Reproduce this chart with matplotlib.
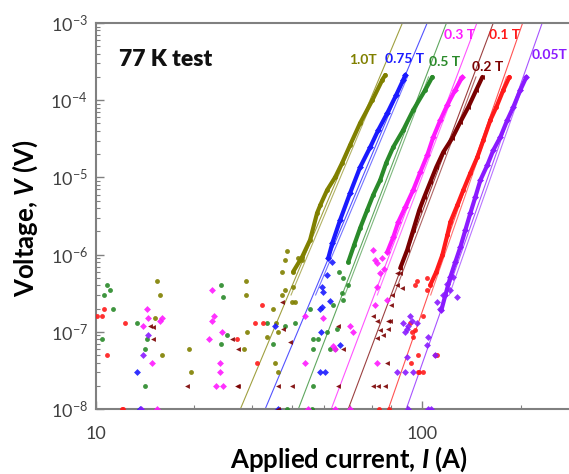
import matplotlib.pyplot as plt
from matplotlib.ticker import LogLocator, FuncFormatter, NullFormatter

plt.rcParams['font.family'] = ['Lato', 'DejaVu Sans']
plt.rcParams['mathtext.fontset'] = 'custom'
plt.rcParams['mathtext.rm'] = 'Lato'
plt.rcParams['mathtext.it'] = 'Lato:italic:bold'
plt.rcParams['mathtext.bf'] = 'Lato:bold'
plt.rcParams['mathtext.default'] = 'regular'

# ---- data (current in A, voltage in V) ----
# 1.0 T
i_10_curve = [40.2, 42.8, 45.3, 47.6, 48.7, 51.1, 54.1, 56.8, 60.1, 64.5, 70.3, 75.4, 77.0]
v_10_curve = [6.0e-7, 9.3e-7, 1.55e-6, 3.46e-6, 4.39e-6, 6.87e-6, 1.01e-5, 1.54e-5, 2.63e-5, 5.07e-5, 1.0e-4, 1.83e-4, 2.12e-4]
i_10_noise = [15.4, 15.7, 15.2, 15.9, 19.3, 19.5, 28.9, 28.9, 29.1, 28.5, 38.5, 38.0, 37.2, 41.7,
              42.9, 40.2, 40.8, 39.9, 38.0, 34.9, 33.5, 35.4, 36.1, 37.2, 36.1, 35.7]
v_10_noise = [4.5e-7, 3e-7, 1.5e-7, 5e-8, 6e-8, 3e-8, 4.5e-7, 3e-7, 1e-7, 6e-8, 1.1e-6, 8.5e-7, 6e-7, 9e-7,
              8.5e-7, 3.8e-7, 2.4e-7, 2.4e-7, 3.5e-7, 2e-7, 8.5e-8, 4e-8, 3e-8, 3e-7, 1e-7, 1.3e-7]
# 0.75 T
i_075_curve = [51.5, 53.0, 56.0, 60.1, 64.5, 69.3, 73.3, 78.1, 83.2, 87.4, 88.7]
v_075_curve = [9.0e-7, 1.41e-6, 2.81e-6, 6.3e-6, 1.36e-5, 2.48e-5, 4.11e-5, 6.8e-5, 1.17e-4, 1.83e-4, 2.12e-4]
i_075_noise = [13.4, 13.6, 35.4, 36.0, 49.4, 49.7, 49.4, 52.3, 48.7, 56.0, 48.7, 50.4, 49.0, 51.1, 53.0]
v_075_noise = [3e-8, 1e-8, 1.2e-7, 1e-8, 3.8e-7, 3.3e-7, 2.1e-7, 2.5e-7, 2e-7, 6.8e-8, 3e-8, 3e-8, 1e-7, 5.5e-7, 8e-7]
# 0.5 T
i_05_curve = [59.3, 61.8, 64.5, 67.8, 70.7, 74.3, 77.5, 81.5, 87.4, 93.8, 102.1, 107.3]
v_05_curve = [8.0e-7, 1.33e-6, 2.21e-6, 3.78e-6, 5.9e-6, 9.25e-6, 1.54e-5, 2.48e-5, 4.11e-5, 7.46e-5, 1.36e-4, 2.0e-4]
i_05_noise = [10.8, 10.6, 11.0, 11.3, 10.4, 13.4, 14.1, 14.3, 14.1, 24.2, 24.5, 24.2, 25.2, 33.5, 38.0,
              40.8, 34.9, 45.3, 46.3, 48.0, 51.1, 56.8, 59.3, 57.2, 53.4, 54.9, 46.3, 52.3, 54.1, 46.3,
              38.5, 45.8, 55.5, 57.0]
v_05_noise = [4e-7, 3e-7, 3.5e-7, 2e-7, 8e-8, 1.3e-7, 6e-8, 8e-8, 2e-8, 4e-7, 2.8e-7, 7e-8, 9e-8, 1.3e-7, 1.2e-7,
              1.3e-7, 7e-8, 2e-7, 8e-8, 8e-8, 1e-7, 3.2e-7, 4e-7, 2.6e-7, 2.2e-7, 1.1e-7, 6e-8, 6e-8, 6e-8, 2e-8,
              1e-8, 1e-8, 6e-7, 5e-7]
# 0.3 T
i_03_curve = [78.1, 81.5, 84.4, 88.7, 93.8, 98.6, 103.6, 108.1, 113.6, 119.3, 126.2, 132.6]
v_03_curve = [1.08e-6, 1.69e-6, 2.64e-6, 4.14e-6, 6.87e-6, 1.17e-5, 1.95e-5, 3.34e-5, 5.54e-5, 8.67e-5, 1.36e-4, 2.0e-4]
i_03_noise = [14.3, 14.4, 13.9, 14.8, 15.4, 15.9, 15.7, 22.7, 22.7, 23.0, 22.2, 24.3, 24.0, 24.0, 23.3, 24.5,
              43.8, 49.7, 54.1, 60.1, 61.4, 53.4, 70.7, 71.7, 72.8, 74.3, 72.8, 71.7, 78.1, 43.8, 72.8,
              44.7, 54.0, 60.0, 75.0, 76.5]
v_03_noise = [2e-7, 1.5e-7, 1.2e-7, 4e-8, 1e-8, 1.5e-7, 1.4e-7, 3.5e-7, 1.4e-7, 1.6e-7, 8e-8, 1e-7, 4e-8, 3e-8, 2e-8, 2e-8,
              1.6e-7, 1.5e-7, 6e-8, 1.2e-7, 1e-7, 6.5e-8, 1.15e-6, 8.5e-7, 7.7e-7, 5.8e-7, 3.8e-7, 2.2e-7, 2.6e-7, 4e-8, 4e-8,
              1e-8, 1e-8, 1e-8, 9e-7, 6.5e-7]
# 0.2 T
i_02_curve = [85.6, 89.9, 93.8, 97.9, 101.4, 105.8, 110.4, 116.0, 123.6, 130.8, 138.4, 146.4, 152.8]
v_02_curve = [6.7e-7, 1.15e-6, 2.08e-6, 3.78e-6, 5.57e-6, 8.7e-6, 1.36e-5, 2.13e-5, 3.24e-5, 5.22e-5, 8.17e-5, 1.36e-4, 2.0e-4]
i_02_noise = [14.6, 15.0, 14.9, 19.0, 26.1, 27.3, 27.1, 27.3, 37.2, 37.5, 39.4, 39.9, 36.1, 70.7, 72.8,
              74.3, 75.9, 78.7, 78.1, 77.0, 73.3, 79.8, 78.7, 72.8, 83.8, 86.9, 85.6, 83.8, 70.7, 36.0,
              55.0, 57.0, 55.0, 81.0, 80.0]
v_02_noise = [1.2e-7, 1.15e-7, 8e-8, 2e-8, 8e-8, 6e-8, 2e-8, 2e-8, 2.4e-7, 1.1e-7, 7.3e-8, 2e-8, 2e-8, 1.6e-7, 1.4e-7,
              1.05e-7, 9e-8, 1.4e-7, 4e-8, 2e-8, 2e-8, 1.4e-7, 1.1e-7, 8.2e-8, 4e-7, 3.7e-7, 5.8e-7, 5.8e-7, 2e-8, 1e-8,
              1.2e-7, 6e-8, 2e-8, 3e-7, 2.2e-7]
# 0.1 T
i_01_curve = [105.8, 110.4, 115.2, 119.3, 121.9, 128.1, 133.6, 140.4, 147.5, 153.9, 161.7, 168.7, 177.2, 184.9]
v_01_curve = [4.04e-7, 6.0e-7, 9.9e-7, 1.79e-6, 2.64e-6, 4.39e-6, 6.87e-6, 1.14e-5, 1.84e-5, 3.05e-5, 5.54e-5, 8.17e-5, 1.36e-4, 2.0e-4]
i_01_noise = [10.1, 10.4, 10.6, 10.8, 12.3, 12.1, 30.7, 32.5, 32.3, 31.2, 27.1, 96.6, 103.6, 100.7, 95.2,
              97.2, 100.7, 97.2, 109.6, 111.2, 93.1, 103.6, 95.2, 92.0, 93.8, 92.5, 98.0, 73.9, 79.0, 12.0]
v_01_noise = [1.6e-7, 1.6e-7, 2e-7, 5e-8, 1.3e-7, 1e-8, 1.3e-7, 1.3e-7, 2.2e-7, 4e-8, 8e-8, 4.5e-7, 3.5e-7, 1.6e-7, 1.05e-7,
              5e-8, 3e-8, 3e-8, 5e-8, 5e-8, 1e-7, 5e-7, 4e-7, 1.3e-7, 8.5e-8, 4e-8, 3e-8, 1e-8, 1e-8, 1e-8]
# 0.05 T
i_005_curve = [114.4, 117.7, 121.9, 126.2, 130.8, 135.5, 140.4, 145.4, 150.7, 158.3, 165.1, 173.5, 182.2, 190.1, 199.8, 208.4]
v_005_curve = [1.91e-7, 3.0e-7, 5.13e-7, 8.0e-7, 1.25e-6, 2.08e-6, 3.46e-6, 5.57e-6, 9.25e-6, 1.45e-5, 2.26e-5, 3.34e-5, 5.54e-5, 8.17e-5, 1.36e-4, 2.0e-4]
i_005_noise = [14.4, 13.9, 13.7, 93.1, 90.6, 88.7, 89.9, 88.7, 93.8, 104.3, 103.6, 113.6, 111.2, 116.0,
               121.9, 119.3, 124.5, 128.1, 109.6, 90.6, 104.3, 106.0, 87.4, 89.9, 92.0, 96.6, 83.8]
v_005_noise = [9e-8, 5e-8, 1e-8, 1.4e-7, 1.2e-7, 1e-7, 4.7e-8, 3e-8, 3e-8, 8.5e-8, 6.8e-8, 2e-7, 2.4e-7, 3e-7,
               3.5e-7, 4.1e-7, 5.1e-7, 2.8e-7, 5e-8, 1e-8, 1e-8, 1e-8, 1.3e-7, 1.1e-7, 1.6e-7, 1.3e-7, 3e-8]

# power-law fit lines: current at V = 1e-8 and at V = 1e-3, plus a shorter second fit
fit_v = [1e-8, 1e-3]
fit2_v = [3e-7, 2e-4]
fit_10 = [27.7, 86.9];   fit2_10 = [39.6, 75.5]
fit_075 = [33.0, 103.5]; fit2_075 = [47.1, 90.0]
fit_05 = [41.7, 118.6];  fit2_05 = [57.9, 104.5]
fit_03 = [52.6, 147.0];  fit2_03 = [72.8, 130.3]
fit_02 = [59.3, 165.0];  fit2_02 = [81.9, 146.0]
fit_01 = [78.7, 203.0];  fit2_01 = [106.1, 181.0]
fit_005 = [89.3, 233.0]; fit2_005 = [121.0, 208.0]

labels = ['1.0T', '0.75 T', '0.5 T', '0.3 T', '0.2 T', '0.1 T', '0.05T']
colors = ['#808000', '#1a1aff', '#2a8a2a', '#ff1aff', '#7a0000', '#ff1a1a', '#8a1aff']
markers = ['o', 'D', 'o', 'D', '<', 'o', 'D']
label_pos = [(363, 60), (405, 59), (445, 62), (460, 35), (488, 67), (505, 35), (550, 55)]

series = [
    (i_10_curve, v_10_curve, i_10_noise, v_10_noise, fit_10, fit2_10),
    (i_075_curve, v_075_curve, i_075_noise, v_075_noise, fit_075, fit2_075),
    (i_05_curve, v_05_curve, i_05_noise, v_05_noise, fit_05, fit2_05),
    (i_03_curve, v_03_curve, i_03_noise, v_03_noise, fit_03, fit2_03),
    (i_02_curve, v_02_curve, i_02_noise, v_02_noise, fit_02, fit2_02),
    (i_01_curve, v_01_curve, i_01_noise, v_01_noise, fit_01, fit2_01),
    (i_005_curve, v_005_curve, i_005_noise, v_005_noise, fit_005, fit2_005),
]

W, H = 569, 474
fig = plt.figure(figsize=(W / 100, H / 100), dpi=100)
# right end of the x axis (300 A) falls just outside the picture
ax = fig.add_axes([96 / W, 1 - 409 / H, (578 - 96) / W, 386 / H])
ax.set_xscale('log')
ax.set_yscale('log')

for k in range(len(series)):
    ci, cv, ni, nv, f1, f2 = series[k]
    c = colors[k]
    ax.plot(f1, fit_v, '-', color=c, lw=0.8, alpha=0.75, zorder=2)
    ax.plot(f2, fit2_v, '-', color=c, lw=0.8, alpha=0.6, zorder=2)
    ax.plot(ci, cv, '-', color=c, lw=3, solid_capstyle='round', zorder=3)
    ax.plot(ci, cv, markers[k], color=c, ms=3.5, mec='none', zorder=3)
    ax.plot(ni, nv, markers[k], color=c, ms=3.5, mec='none', alpha=0.9, zorder=3)

ax.set_xlim(10, 300)
ax.set_ylim(1e-8, 1e-3)

ax.xaxis.set_major_locator(LogLocator(base=10))
ax.xaxis.set_minor_locator(LogLocator(base=10, subs=range(2, 10)))
ax.xaxis.set_major_formatter(FuncFormatter(lambda x, p: '%g' % x))
ax.xaxis.set_minor_formatter(NullFormatter())
ax.yaxis.set_minor_locator(LogLocator(base=10, subs=range(2, 10)))
ax.yaxis.set_minor_formatter(NullFormatter())

ax.tick_params(which='both', direction='in', colors='#808080', labelcolor='#404040',
               labelsize=13, top=False, right=False)
ax.tick_params(which='major', length=6, width=1)
ax.tick_params(which='minor', length=3, width=0.8)
ax.tick_params(axis='x', pad=12)
ax.tick_params(axis='y', pad=6)

for s in ['left', 'bottom', 'top']:
    ax.spines[s].set_color('#808080')
    ax.spines[s].set_linewidth(1.5)
ax.spines['right'].set_visible(False)

ax.set_xlabel(r'Applied current, $\mathit{I}$ (A)', fontsize=18.5, fontweight='bold')
ax.set_ylabel(r'Voltage, $\mathit{V}$ (V)', fontsize=18.5, fontweight='bold')
ax.xaxis.set_label_coords((349 - 96) / (578 - 96), -(459 - 409) / 386)
ax.yaxis.set_label_coords(-(96 - 25) / (578 - 96), (409 - 218) / 386)
ax.xaxis.label.set_va('center')
ax.yaxis.label.set_va('center')

def ax_xy(px, py):
    return (px - 96) / (578 - 96), (409 - py) / 386

ax.text(*ax_xy(119, 59), '77 K test', transform=ax.transAxes, fontsize=16.5,
        fontweight='heavy', va='center', ha='left', color='#111111')
for k in range(len(labels)):
    ax.text(*ax_xy(*label_pos[k]), labels[k], transform=ax.transAxes, fontsize=10,
            fontweight='bold', color=colors[k], ha='center', va='center')

fig.savefig('out.png', dpi=100)
